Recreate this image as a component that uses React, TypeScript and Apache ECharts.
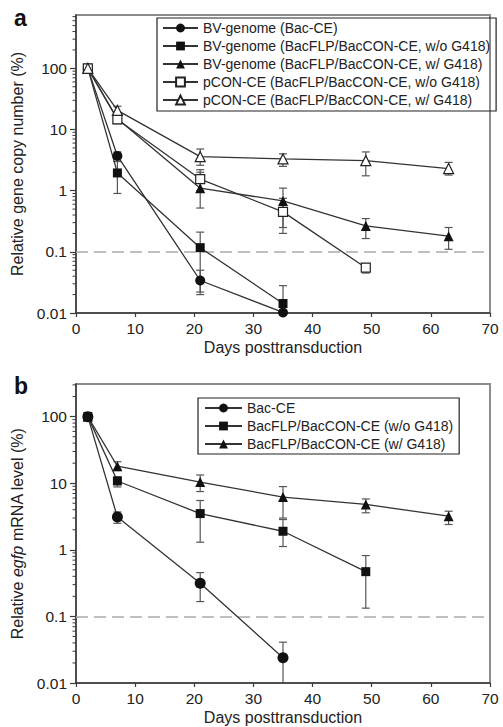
import React, { useEffect, useRef } from "react";
import * as echarts from "echarts";

// ---------- data ----------
const xTicks = [0, 10, 20, 30, 40, 50, 60, 70];
const yTickLabels = ["0.01", "0.1", "1", "10", "100"];

// Panel a
const aNames = [
  "BV-genome (Bac-CE)",
  "BV-genome (BacFLP/BacCON-CE, w/o G418)",
  "BV-genome (BacFLP/BacCON-CE, w/ G418)",
  "pCON-CE (BacFLP/BacCON-CE, w/o G418)",
  "pCON-CE (BacFLP/BacCON-CE, w/ G418)",
];
const a1Days = [2, 7, 21, 35];
const a1Mean = [100, 3.7, 0.034, 0.0102];
const a1Lo = [92, 3.0, 0.02, 0.005];
const a1Hi = [108, 4.3, 0.05, 0.0102];

const a2Days = [2, 7, 21, 35];
const a2Mean = [100, 1.95, 0.117, 0.0143];
const a2Lo = [92, 0.9, 0.022, 0.005];
const a2Hi = [108, 3.0, 0.21, 0.028];

const a3Days = [2, 7, 21, 35, 49, 63];
const a3Mean = [100, 15, 1.1, 0.68, 0.265, 0.18];
const a3Lo = [92, 12.5, 0.52, 0.25, 0.165, 0.11];
const a3Hi = [108, 18, 2.0, 1.1, 0.35, 0.25];

const a4Days = [2, 7, 21, 35, 49];
const a4Mean = [100, 14.6, 1.55, 0.45, 0.055];
const a4Lo = [92, 12.5, 1.0, 0.2, 0.045];
const a4Hi = [108, 17, 2.2, 0.75, 0.063];

const a5Days = [2, 7, 21, 35, 49, 63];
const a5Mean = [100, 20.5, 3.6, 3.3, 3.1, 2.3];
const a5Lo = [92, 17, 2.6, 2.5, 1.75, 1.8];
const a5Hi = [108, 24, 4.8, 4.0, 4.3, 2.9];

// Panel b
const bNames = [
  "Bac-CE",
  "BacFLP/BacCON-CE (w/o G418)",
  "BacFLP/BacCON-CE (w/ G418)",
];
const b1Days = [2, 7, 21, 35];
const b1Mean = [100, 3.1, 0.315, 0.024];
const b1Lo = [92, 2.5, 0.167, 0.005];
const b1Hi = [108, 3.7, 0.455, 0.041];

const b2Days = [2, 7, 21, 35, 49];
const b2Mean = [100, 10.8, 3.5, 1.9, 0.47];
const b2Lo = [92, 8.8, 1.3, 1.12, 0.133];
const b2Hi = [108, 12.5, 5.5, 2.85, 0.82];

const b3Days = [2, 7, 21, 35, 49, 63];
const b3Mean = [100, 18, 10.4, 6.2, 4.8, 3.2];
const b3Lo = [92, 15.5, 7.5, 3.0, 3.6, 2.4];
const b3Hi = [108, 21, 13.3, 8.9, 5.8, 3.8];

const detectionLimit = 0.1;
const yMinVal = 0.01;
const yMaxA = 745;
const yMaxB = 309;

// ---------- helpers ----------
const L = (v: number) => Math.log10(v);
const FONT = "'Liberation Sans', Arial, Helvetica, sans-serif";
const LINE_COLOR = "#333";
const ERR_COLOR = "#555";
const AXIS_COLOR = "#3a3a3a";

type S = {
  name: string;
  days: number[];
  mean: number[];
  lo: number[];
  hi: number[];
  symbol: string;
  filled: boolean;
  size: number;
};

const aSeries: S[] = [
  { name: aNames[0], days: a1Days, mean: a1Mean, lo: a1Lo, hi: a1Hi, symbol: "circle", filled: true, size: 10 },
  { name: aNames[1], days: a2Days, mean: a2Mean, lo: a2Lo, hi: a2Hi, symbol: "rect", filled: true, size: 9 },
  { name: aNames[2], days: a3Days, mean: a3Mean, lo: a3Lo, hi: a3Hi, symbol: "triangle", filled: true, size: 10 },
  { name: aNames[3], days: a4Days, mean: a4Mean, lo: a4Lo, hi: a4Hi, symbol: "rect", filled: false, size: 9 },
  { name: aNames[4], days: a5Days, mean: a5Mean, lo: a5Lo, hi: a5Hi, symbol: "triangle", filled: false, size: 10 },
];
const bSeries: S[] = [
  { name: bNames[0], days: b1Days, mean: b1Mean, lo: b1Lo, hi: b1Hi, symbol: "circle", filled: true, size: 11 },
  { name: bNames[1], days: b2Days, mean: b2Mean, lo: b2Lo, hi: b2Hi, symbol: "rect", filled: true, size: 9 },
  { name: bNames[2], days: b3Days, mean: b3Mean, lo: b3Lo, hi: b3Hi, symbol: "triangle", filled: true, size: 10 },
];

function minorTickValues(maxVal: number): number[] {
  const out: number[] = [];
  for (let e = -2; e <= 3; e++) {
    for (let m = 2; m <= 9; m++) {
      const v = m * Math.pow(10, e);
      if (v > yMinVal && v < maxVal) out.push(L(v));
    }
  }
  return out;
}

function buildPanel(series: S[], gi: number, yMaxLog: number): any[] {
  const out: any[] = [];
  const yMinLog = L(yMinVal);
  // error bars
  series.forEach((s) => {
    out.push({
      type: "custom",
      xAxisIndex: gi,
      yAxisIndex: gi,
      z: 2,
      silent: true,
      data: s.days.map((d, i) => [d, L(s.lo[i]), L(s.hi[i])]),
      encode: { x: 0, y: [1, 2] },
      renderItem: (params: any, api: any) => {
        const x = api.value(0);
        const lo = api.value(1);
        const hi = api.value(2);
        const loC = Math.max(lo, yMinLog);
        const p1 = api.coord([x, hi]);
        const p2 = api.coord([x, loC]);
        const cap = 4;
        const st = { stroke: ERR_COLOR, lineWidth: 1.2 };
        const children: any[] = [
          { type: "line", shape: { x1: p1[0], y1: p1[1], x2: p2[0], y2: p2[1] }, style: st },
          { type: "line", shape: { x1: p1[0] - cap, y1: p1[1], x2: p1[0] + cap, y2: p1[1] }, style: st },
        ];
        if (lo > yMinLog) {
          children.push({ type: "line", shape: { x1: p2[0] - cap, y1: p2[1], x2: p2[0] + cap, y2: p2[1] }, style: st });
        }
        return { type: "group", children };
      },
    });
  });
  // lines
  series.forEach((s, k) => {
    const item: any = {
      type: "line",
      name: s.name,
      xAxisIndex: gi,
      yAxisIndex: gi,
      z: 3,
      data: s.days.map((d, i) => [d, L(s.mean[i])]),
      symbol: s.symbol,
      symbolSize: s.size,
      showAllSymbol: true,
      lineStyle: { color: LINE_COLOR, width: 1.3 },
      itemStyle: s.filled
        ? { color: "#111", borderColor: "#111", borderWidth: 0 }
        : { color: "#fff", borderColor: "#222", borderWidth: 1.2 },
    };
    if (k === 0) {
      item.markLine = {
        silent: true,
        symbol: "none",
        label: { show: false },
        lineStyle: { color: "#aaa", width: 1.6, type: [12, 6] },
        data: [{ yAxis: L(detectionLimit) }],
        z: 1,
      };
    }
    out.push(item);
  });
  // minor ticks
  out.push({
    type: "custom",
    xAxisIndex: gi,
    yAxisIndex: gi,
    silent: true,
    z: 4,
    data: minorTickValues(Math.pow(10, yMaxLog)).map((v) => [0, v]),
    encode: { x: 0, y: 1 },
    renderItem: (params: any, api: any) => {
      const p = api.coord([api.value(0), api.value(1)]);
      return {
        type: "line",
        shape: { x1: p[0] - 3.5, y1: p[1], x2: p[0], y2: p[1] },
        style: { stroke: AXIS_COLOR, lineWidth: 1 },
      };
    },
  });
  return out;
}

function xAxisCfg(gi: number) {
  return {
    type: "value",
    gridIndex: gi,
    min: xTicks[0],
    max: xTicks[xTicks.length - 1],
    interval: 10,
    name: "Days posttransduction",
    nameLocation: "middle",
    nameGap: 26,
    nameTextStyle: { fontFamily: FONT, fontSize: 16, color: "#222" },
    axisLine: { onZero: false, lineStyle: { color: AXIS_COLOR, width: 1.5 } },
    axisTick: { show: true, inside: false, length: 4, lineStyle: { color: AXIS_COLOR, width: 1.2 } },
    axisLabel: { fontFamily: FONT, fontSize: 15.5, color: "#222", margin: 7 },
    splitLine: { show: false },
  };
}

function yAxisCfg(gi: number, maxVal: number, name: string, rich?: any) {
  return {
    type: "value",
    gridIndex: gi,
    min: L(yMinVal),
    max: L(maxVal),
    interval: 1,
    name,
    nameLocation: "middle",
    nameGap: 45,
    nameTextStyle: { fontFamily: FONT, fontSize: 16, color: "#222", rich },
    axisLine: { onZero: false, lineStyle: { color: AXIS_COLOR, width: 1.5 } },
    axisTick: { show: true, inside: false, length: 6, lineStyle: { color: AXIS_COLOR, width: 1.2 } },
    axisLabel: {
      fontFamily: FONT,
      fontSize: 15.5,
      color: "#222",
      margin: 9,
      showMaxLabel: false,
      formatter: (v: number) => {
        const r = Math.round(v);
        if (Math.abs(v - r) > 1e-6) return "";
        return yTickLabels[r + 2] ?? "";
      },
    },
    splitLine: { show: false },
  };
}

export default function App() {
  const ref = useRef<HTMLDivElement>(null);
  useEffect(() => {
    if (!ref.current) return;
    const chart = echarts.init(ref.current, null, { renderer: "svg" });
    const legendText = { fontFamily: FONT, fontSize: 14, color: "#222" };
    const option: any = {
      animation: false,
      backgroundColor: "#fff",
      grid: [
        { left: 76, right: 13, top: 15, height: 298, show: true, borderColor: "#8c8c8c", borderWidth: 2, backgroundColor: "transparent" },
        { left: 76, right: 13, top: 384, height: 299, show: true, borderColor: "#8c8c8c", borderWidth: 2, backgroundColor: "transparent" },
      ],
      xAxis: [xAxisCfg(0), xAxisCfg(1)],
      yAxis: [
        yAxisCfg(0, yMaxA, "Relative gene copy number (%)"),
        yAxisCfg(1, yMaxB, "{n|Relative }{i|egfp}{n| mRNA level (%)}", {
          n: { fontFamily: FONT, fontSize: 16, color: "#222" },
          i: { fontFamily: FONT, fontSize: 16, color: "#222", fontStyle: "italic" },
        }),
      ],
      legend: [
        {
          data: aNames,
          orient: "vertical",
          left: 157,
          top: 18,
          padding: [3, 6, 4, 5],
          itemGap: 4,
          itemWidth: 35,
          itemHeight: 11,
          borderColor: "#222",
          borderWidth: 1.2,
          textStyle: legendText,
          selectedMode: false,
        },
        {
          data: bNames,
          orient: "vertical",
          left: 198,
          top: 398,
          padding: [3, 6, 3, 6],
          itemGap: 4,
          itemWidth: 37,
          itemHeight: 11,
          borderColor: "#222",
          borderWidth: 1.2,
          textStyle: legendText,
          selectedMode: false,
        },
      ],
      graphic: [
        { type: "text", left: 14, top: 6, style: { text: "a", font: `bold 23px ${FONT}`, fill: "#111" } },
        { type: "text", left: 14, top: 374, style: { text: "b", font: `bold 23px ${FONT}`, fill: "#111" } },
      ],
      series: [...buildPanel(aSeries, 0, L(yMaxA)), ...buildPanel(bSeries, 1, L(yMaxB))],
    };
    chart.setOption(option);
    return () => chart.dispose();
  }, []);
  return (
    <div
      ref={ref}
      style={{ position: "fixed", left: 0, top: 0, width: 503, height: 727, background: "#fff" }}
    />
  );
}
